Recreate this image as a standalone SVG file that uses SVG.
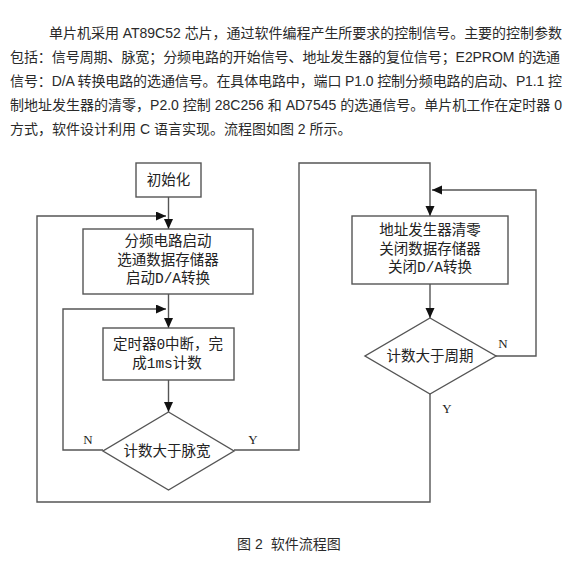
<svg xmlns="http://www.w3.org/2000/svg" width="580" height="566" viewBox="0 0 580 566">
<style>
.para{font-family:"Liberation Sans","Noto Sans CJK SC",sans-serif;font-size:14px;fill:#2a2a2a}
.box{fill:#fff;stroke:#555;stroke-width:1.4}
.lbl{font-family:"Liberation Mono","Noto Sans CJK SC",monospace;font-size:14.5px;fill:#222;text-anchor:middle}
.yn{font-family:"Liberation Serif","Noto Sans CJK SC",serif;font-size:13px;fill:#222;text-anchor:middle}
.conn{fill:none;stroke:#555;stroke-width:1.4}
</style>
<defs>
<marker id="arr" markerUnits="userSpaceOnUse" markerWidth="11" markerHeight="10" refX="10" refY="4.5" orient="auto">
<path d="M0,0 L10,4.5 L0,9 z" fill="#111"/>
</marker>
</defs>
<rect width="580" height="566" fill="#fff"/>
<g id="paragraph">
<text class="para" x="49" y="38" textLength="513" lengthAdjust="spacing">单片机采用 AT89C52 芯片，通过软件编程产生所要求的控制信号。主要的控制参数</text>
<text class="para" x="10" y="62" textLength="550" lengthAdjust="spacing">包括：信号周期、脉宽；分频电路的开始信号、地址发生器的复位信号；E2PROM 的选通</text>
<text class="para" x="10" y="86" textLength="552" lengthAdjust="spacing">信号：D/A 转换电路的选通信号。在具体电路中，端口 P1.0 控制分频电路的启动、P1.1 控</text>
<text class="para" x="10" y="110" textLength="552" lengthAdjust="spacing">制地址发生器的清零，P2.0 控制 28C256 和 AD7545 的选通信号。单片机工作在定时器 0</text>
<text class="para" x="10" y="134">方式，软件设计利用 C 语言实现。流程图如图 2 所示。</text>
</g>
<g id="connectors">
<path class="conn" d="M168.5,197 V229" marker-end="url(#arr)"/>
<path class="conn" d="M168.5,294 V328" marker-end="url(#arr)"/>
<path class="conn" d="M168.5,380 V412" marker-end="url(#arr)"/>
<path class="conn" d="M103,450 H63 V309 H166" marker-end="url(#arr)"/>
<path class="conn" d="M234,450 H299 V163 H430 V216" marker-end="url(#arr)"/>
<path class="conn" d="M430,284 V318" marker-end="url(#arr)"/>
<path class="conn" d="M496,356 H536 V190 H432" marker-end="url(#arr)"/>
<path class="conn" d="M430,394 V502 H37 V216 H166" marker-end="url(#arr)"/>
<text class="yn" x="88" y="444">N</text>
<text class="yn" x="253" y="444">Y</text>
<text class="yn" x="503" y="348">N</text>
<text class="yn" x="447" y="413">Y</text>
</g>
<g id="init">
<rect class="box" x="136" y="163" width="65" height="34"/>
<text class="lbl" x="168.5" y="185">初始化</text>
</g>
<g id="start">
<rect class="box" x="83" y="229" width="170" height="65"/>
<text class="lbl" x="168" y="246">分频电路启动</text>
<text class="lbl" x="168" y="265">选通数据存储器</text>
<text class="lbl" x="168" y="283">启动D/A转换</text>
</g>
<g id="timer">
<rect class="box" x="103" y="328" width="131" height="52"/>
<text class="lbl" x="168" y="349">定时器0中断，完</text>
<text class="lbl" x="167" y="368">成1ms计数</text>
</g>
<g id="cmp-width">
<polygon class="box" points="168.5,412 234,451 168.5,490 103,451"/>
<text class="lbl" x="167" y="456">计数大于脉宽</text>
</g>
<g id="clear">
<rect class="box" x="352" y="216" width="156" height="68"/>
<text class="lbl" x="430" y="235">地址发生器清零</text>
<text class="lbl" x="430" y="254">关闭数据存储器</text>
<text class="lbl" x="430" y="272">关闭D/A转换</text>
</g>
<g id="cmp-period">
<polygon class="box" points="430,318 496,356 430,394 365,356"/>
<text class="lbl" x="430" y="361">计数大于周期</text>
</g>
<g id="caption">
<text class="para" x="237" y="549">图 2<tspan dx="8">软件流程图</tspan></text>
</g>
</svg>
